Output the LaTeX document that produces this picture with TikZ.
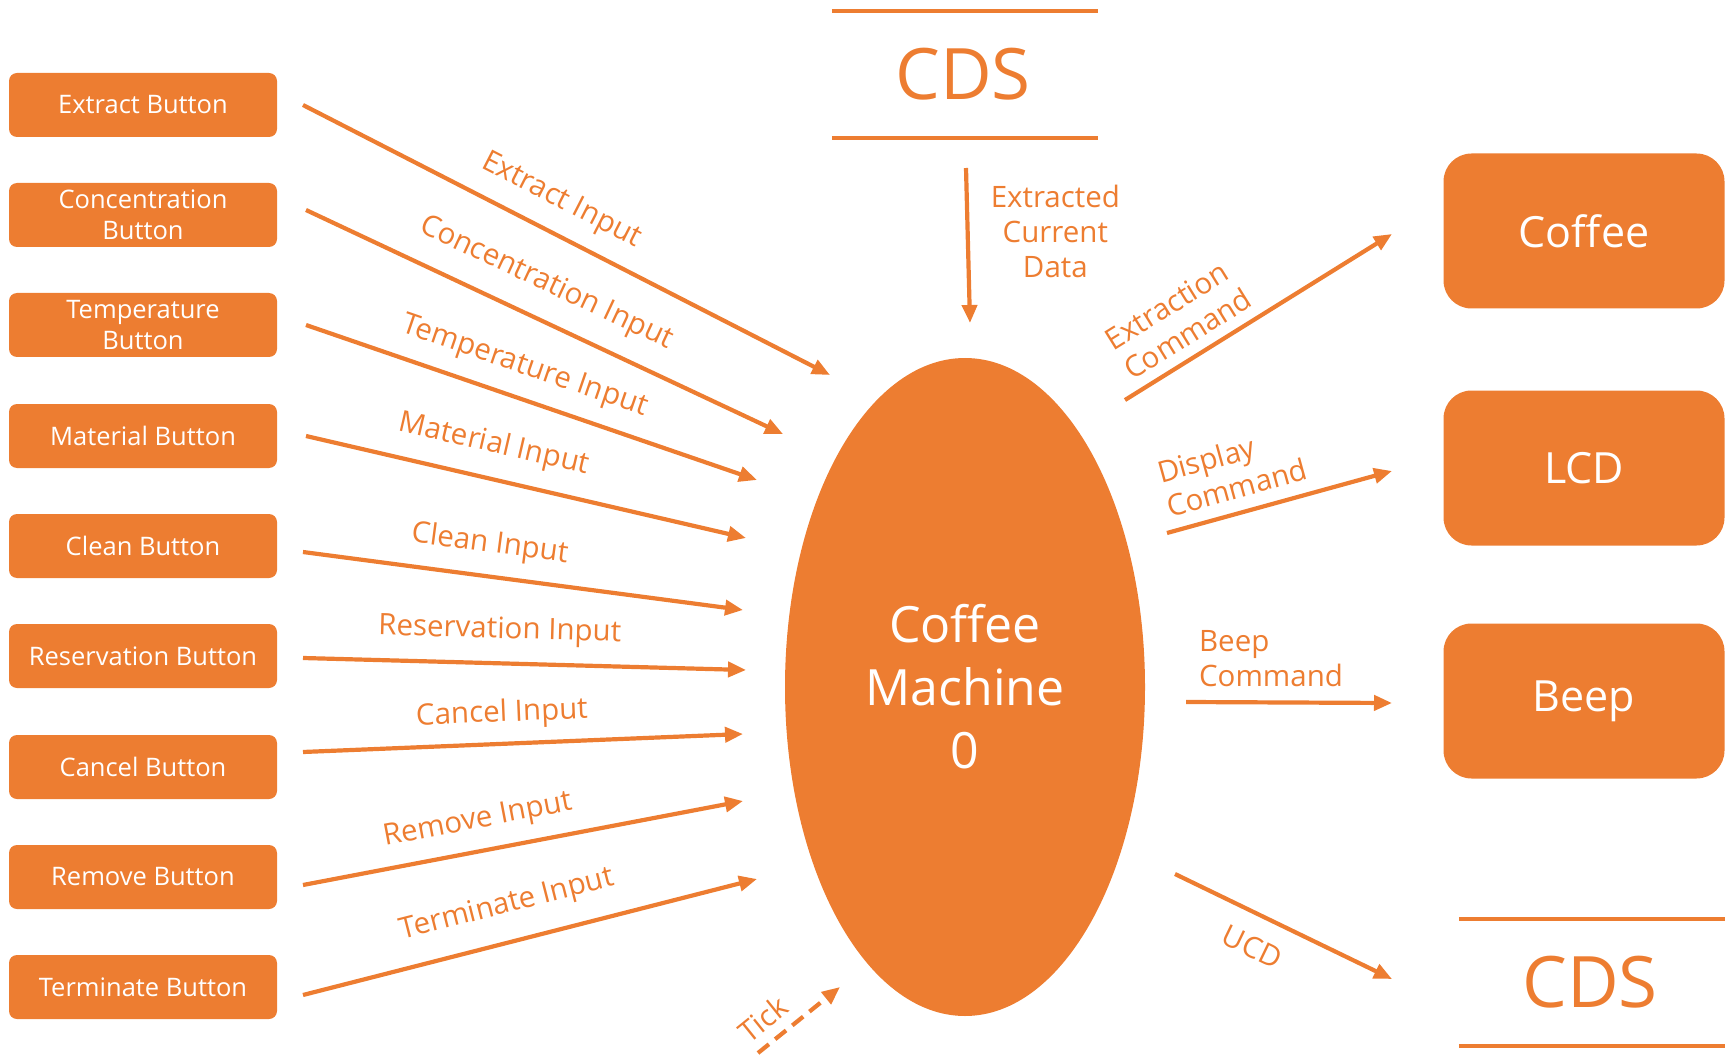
\documentclass[tikz,border=0pt]{standalone}
\usepackage{fontspec}
\setmainfont{Open Sans}
\usetikzlibrary{arrows.meta,shapes.geometric,calc}
\definecolor{org}{HTML}{ED7D31}
\begin{document}
\begin{tikzpicture}[x=1pt,y=-1pt,
  btn/.style={fill=org, rounded corners=8pt, minimum width=268pt, minimum height=64pt, text=white, font=\fontsize{25.5}{31}\selectfont, align=center, inner sep=0pt},
  bigbox/.style={fill=org, rounded corners=28pt, minimum width=281pt, minimum height=155pt, text=white, font=\fontsize{43}{50}\selectfont, inner sep=0pt},
  arr/.style={draw=org, line width=4.2pt, -{Triangle[length=18pt,width=15pt]}},
  lbl/.style={text=org, font=\fontsize{29.5}{35}\selectfont, inner sep=0pt},
  store/.style={minimum width=266pt, minimum height=127pt, text=org, font=\fontsize{71}{80}\selectfont, inner sep=0pt},
  storeline/.style={draw=org, line width=3.5pt},
]
\useasboundingbox (0,0) rectangle (1730,1059);

% left buttons
\node[btn] (b1) at (143,105) {Extract Button};
\node[btn] (b2) at (143,215) {Concentration\\Button};
\node[btn] (b3) at (143,325) {Temperature\\Button};
\node[btn] (b4) at (143,436) {Material Button};
\node[btn] (b5) at (143,546) {Clean Button};
\node[btn] (b6) at (143,656) {Reservation Button};
\node[btn] (b7) at (143,767) {Cancel Button};
\node[btn] (b8) at (143,877) {Remove Button};
\node[btn] (b9) at (143,987) {Terminate Button};

% central process
\node[ellipse, fill=org, minimum width=360pt, minimum height=658pt, inner sep=0pt,
      text=white, align=center, font=\fontsize{50}{63}\selectfont] (cm) at (965,687) {Coffee\\Machine\\0};

% right boxes
\node[bigbox] (coffee) at (1584,231) {Coffee};
\node[bigbox] (lcd) at (1584,468) {LCD};
\node[bigbox] (beep) at (1584,701) {Beep};

% data stores
\node[store] (cds1) at (963,74.5) {CDS};
\draw[storeline] ([xshift=2pt]cds1.north west) -- ([xshift=2pt]cds1.north east);
\draw[storeline] ([xshift=2pt]cds1.south west) -- ([xshift=2pt]cds1.south east);
\node[store] (cds2) at (1590,982.5) {CDS};
\draw[storeline] ([xshift=2pt]cds2.north west) -- ([xshift=2pt]cds2.north east);
\draw[storeline] ([xshift=2pt]cds2.south west) -- ([xshift=2pt]cds2.south east);

% arrow end points
\coordinate (s1) at (303,105);  \coordinate (e1) at (830,375);
\coordinate (s2) at (306,210);  \coordinate (e2) at (783,434);
\coordinate (s3) at (306,325);  \coordinate (e3) at (757,480);
\coordinate (s4) at (306,436);  \coordinate (e4) at (746,538);
\coordinate (s5) at (303,552);  \coordinate (e5) at (743,610);
\coordinate (s6) at (303,658);  \coordinate (e6) at (746,670);
\coordinate (s7) at (303,752);  \coordinate (e7) at (743,734);
\coordinate (s8) at (303,885);  \coordinate (e8) at (743,801);
\coordinate (s9) at (303,995);  \coordinate (e9) at (757,879);

\draw[arr] (s1) -- node[lbl, pos=0.462, above=16pt, sloped] {Extract Input} (e1);
\draw[arr] (s2) -- node[lbl, pos=0.472, above=19pt, sloped] {Concentration Input} (e2);
\draw[arr] (s3) -- node[lbl, pos=0.462, above=15pt, sloped] {Temperature Input} (e3);
\draw[arr] (s4) -- node[lbl, pos=0.41, above=17pt, sloped] {Material Input} (e4);
\draw[arr] (s5) -- node[lbl, pos=0.415, above=15pt, sloped] {Clean Input} (e5);
\draw[arr] (s6) -- node[lbl, pos=0.442, above=16pt, sloped] {Reservation Input} (e6);
\draw[arr] (s7) -- node[lbl, pos=0.455, above=13pt, sloped] {Cancel Input} (e7);
\draw[arr] (s8) -- node[lbl, pos=0.41, above=14pt, sloped] {Remove Input} (e8);
\draw[arr] (s9) -- node[lbl, pos=0.47, above=20pt, sloped] {Terminate Input} (e9);

% top input
\coordinate (d1) at (966,168); \coordinate (d2) at (970,323);
\draw[arr] (d1) -- node[lbl, pos=0.41, right=21pt, align=center] {Extracted\\Current\\Data} (d2);

% outputs
\coordinate (o1s) at (1125,400); \coordinate (o1e) at (1392,234);
\coordinate (o2s) at (1167,533); \coordinate (o2e) at (1392,471);
\coordinate (o3s) at (1186,702); \coordinate (o3e) at (1392,703);
\coordinate (o4s) at (1175,874); \coordinate (o4e) at (1392,979);
\draw[arr] (o1s) -- node[lbl, pos=0.28, above=10pt, sloped, align=left] {Extraction\\Command} (o1e);
\draw[arr] (o2s) -- node[lbl, pos=0.34, above=12pt, sloped, align=left] {Display\\Command} (o2e);
\draw[arr] (o3s) -- node[lbl, pos=0, anchor=south west, xshift=11pt, yshift=13pt, align=left] {Beep\\Command} (o3e);
\draw[arr] (o4s) -- node[lbl, pos=0.42, below=19pt, sloped] {UCD} (o4e);

% tick
\coordinate (t1) at (758,1053); \coordinate (t2) at (840,987);
\draw[arr, dash pattern=on 14pt off 8pt] (t1) -- node[lbl, pos=0.24, above=10pt, sloped] {Tick} (t2);
\end{tikzpicture}
\end{document}
